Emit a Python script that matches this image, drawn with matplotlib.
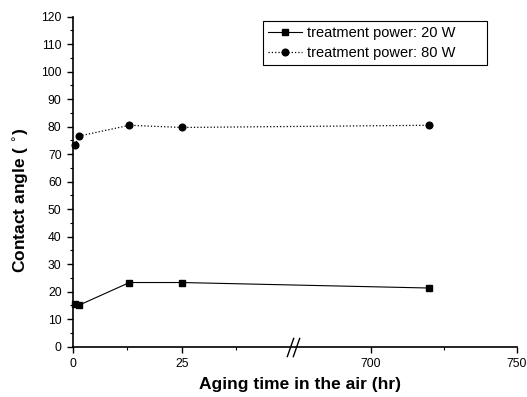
import numpy as np
import matplotlib
matplotlib.use('Agg')
import matplotlib.pyplot as plt
from matplotlib.ticker import FixedLocator, NullFormatter
from matplotlib.transforms import blended_transform_factory, offset_copy

plt.rcParams['font.family'] = ['Liberation Sans', 'DejaVu Sans']

# data
time_20w = [0.5, 1.5, 13, 25, 720]
angle_20w = [15.5, 15.1, 23.3, 23.3, 21.3]
time_80w = [0.5, 1.5, 13, 25, 720]
angle_80w = [73.3, 76.6, 80.5, 79.7, 80.5]

x_major = [0, 25, 700, 750]
x_minor = [12.5, 37.5, 725]
y_major = list(range(0, 121, 10))
y_minor = list(range(5, 120, 10))

# broken x axis: 0..50.5 then 673.5..750 (compressed)
BREAK_LO = 50.5
BREAK_HI = 673.5
RATIO = 2.92 / 4.36


def forward(x):
    x = np.asarray(x, dtype=float)
    return np.where(x <= BREAK_LO, x,
                    np.where(x >= BREAK_HI, BREAK_LO + (x - BREAK_HI) * RATIO, BREAK_LO))


def inverse(y):
    y = np.asarray(y, dtype=float)
    return np.where(y <= BREAK_LO, y, BREAK_HI + (y - BREAK_LO) / RATIO)


fig = plt.figure(figsize=(5.27, 3.97), dpi=100)
ax = fig.add_axes([0.138, 0.127, 0.8425, 0.831])
ax.set_xscale('function', functions=(forward, inverse))

ax.plot(time_20w, angle_20w, color='black', linestyle='-', linewidth=0.8,
        marker='s', markersize=4.5, label='treatment power: 20 W', clip_on=False, zorder=3)
ax.plot(time_80w, angle_80w, color='black', linestyle=':', linewidth=0.9,
        marker='o', markersize=4.8, label='treatment power: 80 W', clip_on=False, zorder=3)

ax.set_xlim(0, 750)
ax.set_ylim(0, 120)
ax.xaxis.set_major_locator(FixedLocator(x_major))
ax.xaxis.set_minor_locator(FixedLocator(x_minor))
ax.xaxis.set_minor_formatter(NullFormatter())
ax.set_xticklabels([str(v) for v in x_major])
ax.yaxis.set_major_locator(FixedLocator(y_major))
ax.yaxis.set_minor_locator(FixedLocator(y_minor))

for side in ['top', 'right']:
    ax.spines[side].set_visible(False)
for side in ['left', 'bottom']:
    ax.spines[side].set_linewidth(1.2)

ax.tick_params(which='major', direction='out', length=4.5, width=1.0, labelsize=8.7, pad=3.5)
ax.tick_params(which='minor', direction='out', length=2.5, width=0.8)

ax.set_xlabel('Aging time in the air (hr)', fontsize=12.5, fontweight='bold')
ax.set_ylabel('Contact angle ( $^{\\circ}$)', fontsize=12.5, fontweight='bold')
ax.xaxis.set_label_coords(0.512, -0.092)
ax.yaxis.set_label_coords(-0.093, 0.445)

# axis break marks
trans = blended_transform_factory(ax.transData, ax.transAxes)
for dx in (-3, 3):
    t = offset_copy(trans, fig=fig, x=dx, y=0, units='dots')
    ax.plot([BREAK_LO], [0], marker=[(-0.35, -1), (0.35, 1)], markersize=14,
            markeredgecolor='black', markeredgewidth=1.0, linestyle='none',
            transform=t, clip_on=False, zorder=4)

leg = ax.legend(loc='upper left', bbox_to_anchor=(0.4286, 0.988, 0.5045, 0.0), mode='expand',
                fontsize=10.5, frameon=True, fancybox=False, framealpha=1, edgecolor='black',
                handlelength=2.3, handletextpad=0.35, borderpad=0.35, labelspacing=0.45,
                borderaxespad=0)
leg.get_frame().set_linewidth(0.8)

fig.savefig('out.png', dpi=100)
